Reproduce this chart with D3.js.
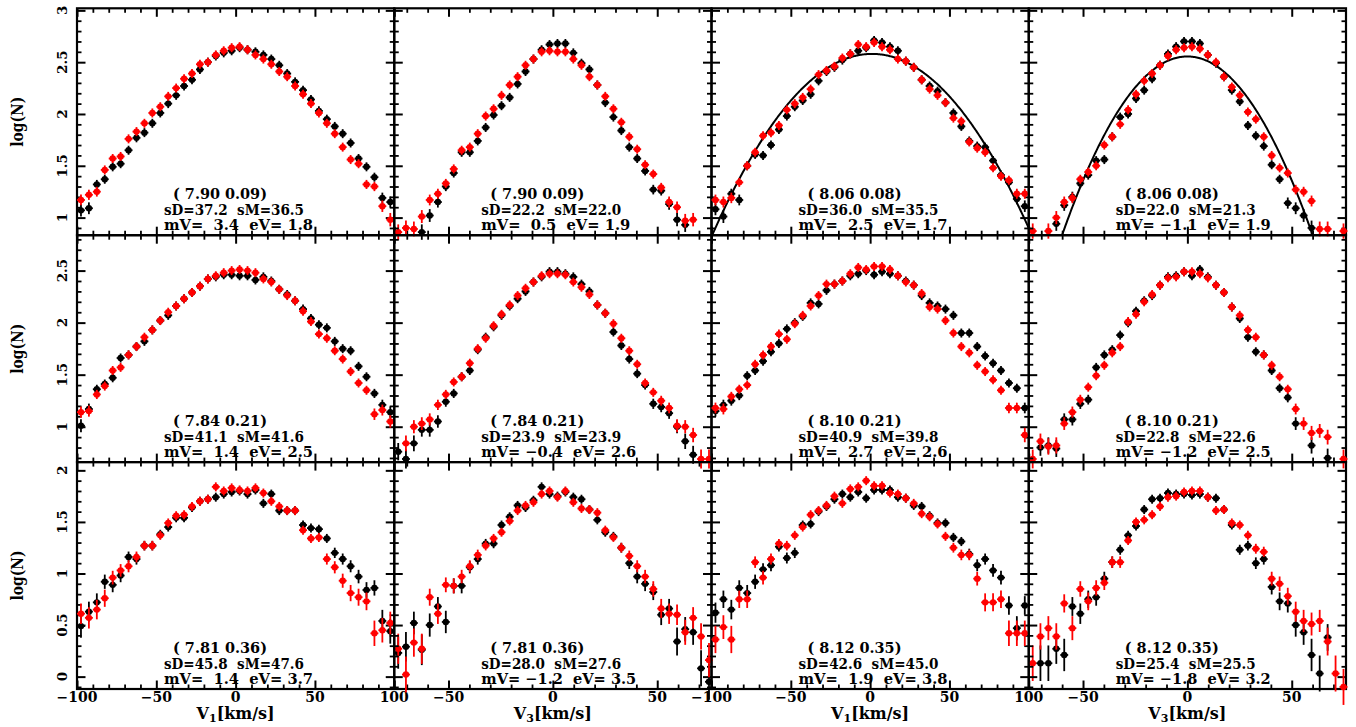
<!DOCTYPE html>
<html><head><meta charset="utf-8">
<script src="https://cdn.jsdelivr.net/npm/d3@7"></script>
<style>
body{margin:0;background:#fff}
svg{display:block}
text{font-family:"DejaVu Serif",serif;fill:#000;font-weight:bold}
</style>
</head><body>
<svg id="c" width="1356" height="727"></svg>
<script>
// ---------------- DATA ----------------
// bin centres (km/s)
const v1Bins = [-97.5,-92.5,-87.5,-82.5,-77.5,-72.5,-67.5,-62.5,-57.5,-52.5,-47.5,-42.5,-37.5,-32.5,-27.5,-22.5,-17.5,-12.5,-7.5,-2.5,2.5,7.5,12.5,17.5,22.5,27.5,32.5,37.5,42.5,47.5,52.5,57.5,62.5,67.5,72.5,77.5,82.5,87.5,92.5,97.5,102.5];
const v3Bins = [-70.4,-66.6,-62.8,-59.0,-55.1,-51.3,-47.5,-43.7,-39.8,-36.0,-32.2,-28.4,-24.6,-20.7,-16.9,-13.1,-9.3,-5.4,-1.6,2.2,6.0,9.8,13.7,17.5,21.3,25.1,29.0,32.8,36.6,40.4,44.2,48.1,51.9,55.7,59.5,63.4,67.2,71.0,74.8];

// row 1
const r1c1Black = [1.07,1.09,1.32,1.37,1.49,1.52,1.65,1.77,1.82,1.91,2.01,2.10,2.18,2.27,2.33,2.43,2.50,2.56,2.59,2.61,2.64,2.62,2.60,2.57,2.53,2.47,2.39,2.31,2.23,2.14,2.03,1.95,1.88,1.81,1.72,1.57,1.49,1.39,1.19,1.15,null];
const r1c1Red   = [1.17,1.22,1.25,1.46,1.57,1.59,1.76,1.83,1.91,2.01,2.07,2.17,2.25,2.34,2.39,2.48,2.50,2.57,2.61,2.64,2.65,2.62,2.57,2.53,2.48,2.41,2.36,2.27,2.19,2.10,2.01,1.91,1.81,1.68,1.56,1.52,1.32,1.30,1.11,0.98,0.86];
const r1c2Black = [null,null,0.86,1.02,1.15,1.30,1.43,1.63,1.63,1.74,1.87,1.99,2.08,2.16,2.29,2.41,2.53,2.62,2.67,2.68,2.68,2.59,2.49,2.43,2.28,2.11,1.97,1.84,1.68,1.57,1.45,1.27,1.26,1.13,0.98,0.93,null,null,null];
const r1c2Red   = [0.90,0.89,1.01,1.17,1.23,1.33,1.47,1.65,1.68,1.81,1.98,2.05,2.18,2.28,2.36,2.47,2.53,2.60,2.61,2.60,2.60,2.53,2.47,2.36,2.28,2.17,2.05,1.92,1.78,1.66,1.51,1.42,1.29,1.15,1.10,0.97,0.98,null,null];
const r1c3Black = [1.08,1.01,1.23,1.17,1.50,1.61,1.60,1.70,1.85,1.98,2.07,2.13,2.19,2.32,2.41,2.45,2.52,2.58,2.61,2.64,2.71,2.69,2.65,2.61,2.51,2.45,2.33,2.27,2.22,2.11,2.01,1.88,1.74,1.69,1.68,1.55,1.41,1.34,1.18,1.11,null];
const r1c3Red   = [1.17,1.15,1.19,1.34,1.50,1.63,1.79,1.82,1.89,2.04,2.10,2.16,2.24,2.38,2.42,2.46,2.54,2.58,2.67,2.65,2.69,2.65,2.62,2.53,2.51,2.45,2.33,2.24,2.18,2.11,1.96,1.93,1.73,1.67,1.63,1.48,1.40,1.36,1.23,1.23,0.87];
const r1c4Black = [null,null,0.94,1.12,1.20,1.33,1.41,1.55,1.56,1.78,1.97,2.00,2.15,2.23,2.34,2.47,2.58,2.65,2.70,2.70,2.68,2.57,2.49,2.36,2.23,2.12,1.89,1.79,1.69,1.51,1.37,1.14,1.09,1.02,0.90,null,null,null,null];
const r1c4Red   = [null,0.87,1.00,1.15,1.19,1.37,1.44,1.50,1.70,1.78,1.90,2.04,2.19,2.32,2.39,2.47,2.56,2.62,2.64,2.65,2.63,2.57,2.50,2.36,2.26,2.18,2.02,1.95,1.78,1.60,1.48,1.43,1.27,1.25,1.16,0.89,0.89,null,0.87];
// row 2
const r2c1Black = [1.01,1.17,1.36,1.41,1.47,1.66,1.69,1.77,1.82,1.93,2.02,2.07,2.16,2.23,2.29,2.35,2.42,2.44,2.46,2.46,2.45,2.45,2.41,2.44,2.40,2.32,2.27,2.21,2.13,2.04,1.98,1.95,1.82,1.75,1.73,1.58,1.48,1.32,1.21,1.14,0.76];
const r2c1Red   = [1.14,1.15,1.31,1.39,1.54,1.57,1.69,1.77,1.86,1.93,2.02,2.10,2.16,2.23,2.29,2.35,2.42,2.45,2.48,2.50,2.51,2.50,2.48,2.42,2.39,2.32,2.26,2.21,2.11,2.01,1.89,1.85,1.73,1.65,1.53,1.42,1.35,1.12,1.16,1.05,null];
const r2c2Black = [0.69,0.84,0.97,0.97,1.05,1.24,1.32,1.48,1.54,1.74,1.86,1.96,2.07,2.16,2.23,2.30,2.39,2.44,2.49,2.49,2.47,2.44,2.37,2.30,2.17,2.09,1.91,1.78,1.65,1.51,1.40,1.22,1.19,1.13,1.00,0.86,0.73,null,null];
const r2c2Red   = [0.84,1.00,1.03,1.07,1.21,1.31,1.43,1.48,1.61,1.75,1.85,1.97,2.08,2.17,2.26,2.33,2.39,2.45,2.47,2.47,2.46,2.39,2.34,2.27,2.17,2.09,1.99,1.85,1.73,1.60,1.42,1.33,1.25,1.18,1.01,1.00,0.92,0.69,0.69];
const r2c3Black = [1.15,1.21,1.25,1.30,1.49,1.54,1.63,1.72,1.80,1.94,2.00,2.06,2.19,2.18,2.31,2.37,2.40,2.45,2.47,2.50,2.46,2.49,2.47,2.45,2.40,2.36,2.26,2.19,2.16,2.13,2.07,1.90,1.90,1.77,1.68,1.61,1.54,1.42,1.37,1.18,null];
const r2c3Red   = [1.18,1.17,1.29,1.36,1.40,1.60,1.69,1.77,1.89,1.84,1.99,2.07,2.16,2.26,2.37,2.37,2.40,2.47,2.53,2.51,2.54,2.54,2.51,2.45,2.39,2.36,2.28,2.15,2.13,2.02,1.90,1.77,1.71,1.59,1.53,1.45,1.35,1.18,1.18,0.92,0.69];
const r2c4Black = [0.80,0.82,0.79,1.07,1.07,1.22,1.26,1.57,1.69,1.74,1.88,2.00,2.11,2.21,2.26,2.36,2.44,2.45,2.49,2.45,2.51,2.44,2.36,2.29,2.15,2.04,1.86,1.72,1.69,1.54,1.37,1.28,1.03,null,0.82,null,0.70,null,null];
const r2c4Red   = [0.86,0.81,0.82,1.03,1.14,1.26,1.38,1.49,1.59,1.71,1.77,2.01,2.08,2.20,2.27,2.36,2.43,2.44,2.49,2.49,2.47,2.43,2.36,2.29,2.15,2.07,1.93,1.86,1.69,1.59,1.48,1.36,1.17,1.03,0.94,0.96,0.90,null,0.69];
// row 3
const r3c1Black = [0.49,0.63,0.72,0.92,0.89,0.98,1.16,1.14,1.27,1.27,1.38,1.45,1.54,1.54,1.64,1.70,1.72,1.74,1.77,1.79,1.80,1.77,1.81,1.68,1.77,1.61,1.61,1.61,1.47,1.44,1.43,1.34,1.20,1.14,1.07,0.97,0.84,0.86,0.54,0.44,0.23];
const r3c1Red   = [0.61,0.57,0.65,0.76,0.96,1.03,1.07,1.16,1.27,1.27,1.37,1.49,1.56,1.57,1.65,1.70,1.72,1.84,1.80,1.83,1.81,1.80,1.83,1.78,1.70,1.65,1.61,1.61,1.42,1.34,1.35,1.14,1.06,0.93,0.81,0.77,0.73,0.42,0.45,0.52,0.27];
const r3c2Black = [0.29,0.52,0.26,0.50,0.68,0.53,0.88,0.88,1.06,1.14,1.29,1.29,1.47,1.55,1.66,1.64,1.71,1.84,1.77,1.75,1.79,1.74,1.72,1.62,1.52,1.40,1.36,1.25,1.10,0.97,0.90,0.82,0.60,0.66,0.34,0.46,0.43,0.08,-0.05];
const r3c2Red   = [0.02,0.33,0.27,0.77,0.61,0.89,0.88,0.97,1.07,1.18,1.27,1.34,1.40,1.51,1.61,1.66,1.69,1.77,1.80,1.74,1.80,1.69,1.63,1.62,1.59,1.42,1.35,1.25,1.17,1.07,0.97,0.85,0.66,0.61,0.60,0.43,0.57,0.39,0.16];
const r3c3Black = [0.62,0.75,0.65,0.86,0.81,0.92,1.04,1.08,1.26,1.15,1.20,1.47,1.48,1.60,1.65,1.72,1.77,1.74,1.79,1.73,1.81,1.81,1.81,1.74,1.73,1.66,1.65,1.56,1.49,1.49,1.35,1.31,1.19,1.08,1.14,1.03,0.96,0.69,0.47,0.69,null];
const r3c3Red   = [0.36,0.48,0.36,0.75,0.75,1.11,0.96,1.14,1.29,1.27,1.37,1.45,1.57,1.61,1.66,1.75,1.68,1.82,1.84,1.90,1.85,1.85,1.78,1.77,1.73,1.68,1.58,1.55,1.48,1.36,1.25,1.18,1.18,0.95,0.72,0.72,0.75,0.42,0.42,0.42,0.13];
const r3c4Black = [0.13,0.13,0.27,0.21,0.68,0.61,0.75,0.77,0.95,1.11,1.23,1.37,1.46,1.62,1.72,1.73,1.78,1.77,1.77,1.76,1.77,1.74,1.73,1.62,1.47,1.23,1.27,1.10,1.14,0.87,0.73,0.71,0.50,0.43,0.21,0.03,0.38,null,null];
const r3c4Red   = [0.39,0.47,0.39,0.71,0.47,0.85,0.73,0.86,0.91,1.11,1.11,1.32,1.50,1.52,1.57,1.65,1.74,1.75,1.79,1.80,1.80,1.74,1.61,1.62,1.49,1.47,1.37,1.24,1.21,0.95,0.90,0.78,0.63,0.54,0.51,0.54,0.34,0.03,-0.10];

// panel annotations
const distLabels  = [["( 7.90 0.09)","( 7.90 0.09)","( 8.06 0.08)","( 8.06 0.08)"],
                     ["( 7.84 0.21)","( 7.84 0.21)","( 8.10 0.21)","( 8.10 0.21)"],
                     ["( 7.81 0.36)","( 7.81 0.36)","( 8.12 0.35)","( 8.12 0.35)"]];
const sigmaLabels = [["sD=37.2  sM=36.5","sD=22.2  sM=22.0","sD=36.0  sM=35.5","sD=22.0  sM=21.3"],
                     ["sD=41.1  sM=41.6","sD=23.9  sM=23.9","sD=40.9  sM=39.8","sD=22.8  sM=22.6"],
                     ["sD=45.8  sM=47.6","sD=28.0  sM=27.6","sD=42.6  sM=45.0","sD=25.4  sM=25.5"]];
const meanLabels  = [["mV=  3.4  eV= 1.8","mV=  0.5  eV= 1.9","mV=  2.5  eV= 1.7","mV= \u22121.1  eV= 1.9"],
                     ["mV=  1.4  eV= 2.5","mV= \u22120.4  eV= 2.6","mV=  2.7  eV= 2.6","mV= \u22121.2  eV= 2.5"],
                     ["mV=  1.4  eV= 3.7","mV= \u22121.2  eV= 3.5","mV=  1.9  eV= 3.8","mV= \u22121.8  eV= 3.2"]];

// Gaussian model curves drawn in the top row (columns 3 and 4)
const fitCols  = [2, 3];
const fitPeak  = [2.58, 2.555];
const fitMean  = [1.2, 0.0];
const fitSigma = [35.5, 21.3];

// axis ticks
const v1Major = [-100,-50,0,50,100];
const v3Major = [-50,0,50];
const yMajorByRow = [[1,1.5,2,2.5,3],[1,1.5,2,2.5],[0,0.5,1,1.5,2]];
const xTitles = ["1","3","1","3"];

// ---------------- LAYOUT ----------------
const blackSeries = [[r1c1Black,r1c2Black,r1c3Black,r1c4Black],[r2c1Black,r2c2Black,r2c3Black,r2c4Black],[r3c1Black,r3c2Black,r3c3Black,r3c4Black]];
const redSeries   = [[r1c1Red,r1c2Red,r1c3Red,r1c4Red],[r2c1Red,r2c2Red,r2c3Red,r2c4Red],[r3c1Red,r3c2Red,r3c3Red,r3c4Red]];

const L=77, R=1346, T=8.3, B=689;
const PW=(R-L)/4, PH=(B-T)/3;
const yDomains=[[0.83,3.02],[0.66,2.84],[-0.12,2.08]];
const isV1=[true,false,true,false];
const ERR_SCALE=0.2;    // Poisson-like error on log(N)
const ERR_MAXPX=18;
const RED="#ff0000";

const svg=d3.select("#c");

for(let r=0;r<3;r++){
  for(let c=0;c<4;c++){
    const x0=L+c*PW, y0=T+r*PH;
    const xd = isV1[c]?[-100,100]:[-76,76];
    const x=d3.scaleLinear().domain(xd).range([x0,x0+PW]);
    const y=d3.scaleLinear().domain(yDomains[r]).range([y0+PH,y0]);
    const bins = isV1[c]?v1Bins:v3Bins;
    const hb = isV1[c]?2.5:1.9;
    const g=svg.append("g");

    const clipId=`clip${r}${c}`;
    g.append("clipPath").attr("id",clipId).append("rect")
      .attr("x",x0).attr("y",y0).attr("width",PW).attr("height",PH);

    // ticks (all four sides, inward)
    const xMaj = isV1[c]?v1Major:v3Major;
    const xMin = d3.range(Math.ceil(xd[0]/10)*10, xd[1]+0.1, 10).filter(t=>!xMaj.includes(t));
    const yd=yDomains[r];
    const yMaj=yMajorByRow[r];
    const yMin=d3.range(Math.ceil(yd[0]*10), Math.floor(yd[1]*10)+1).map(i=>i/10)
                 .filter(t=>!yMaj.some(m=>Math.abs(m-t)<1e-6));
    const axes=[
      [()=>d3.axisTop(x),   `translate(0,${y0+PH})`, xMaj, xMin],
      [()=>d3.axisBottom(x),`translate(0,${y0})`,    xMaj, xMin],
      [()=>d3.axisRight(y), `translate(${x0},0)`,    yMaj, yMin],
      [()=>d3.axisLeft(y),  `translate(${x0+PW},0)`, yMaj, yMin]
    ];
    axes.forEach(([mk,tr,maj,min])=>{
      g.append("g").attr("transform",tr).attr("stroke-width",2)
        .call(mk().tickValues(maj).tickSize(8.5).tickFormat(""))
        .call(s=>s.select(".domain").remove());
      g.append("g").attr("transform",tr).attr("stroke-width",1.8)
        .call(mk().tickValues(min).tickSize(4.5).tickFormat(""))
        .call(s=>s.select(".domain").remove());
    });

    // frame
    g.append("rect").attr("x",x0).attr("y",y0).attr("width",PW).attr("height",PH)
      .attr("fill","none").attr("stroke","#000").attr("stroke-width",2.2);

    // model curve
    const fi=fitCols.indexOf(c);
    if(r===0 && fi>=0){
      const vs=d3.range(xd[0],xd[1]+0.5,0.5);
      const curve=vs.map(v=>[v, fitPeak[fi]-Math.LOG10E*(v-fitMean[fi])**2/(2*fitSigma[fi]**2)]);
      g.append("path").attr("clip-path",`url(#${clipId})`)
        .attr("d",d3.line().x(d=>x(d[0])).y(d=>y(d[1]))(curve))
        .attr("fill","none").attr("stroke","#000").attr("stroke-width",2);
    }

    // points with error bars
    [[blackSeries[r][c],"#000"],[redSeries[r][c],RED]].forEach(([vals,col])=>{
      const pts=vals.map((v,i)=>({v,b:bins[i]})).filter(d=>d.v!=null);
      const ePx=d=>{const e=ERR_SCALE/Math.sqrt(Math.pow(10,d.v));return Math.min(ERR_MAXPX,Math.max(4.5,y(d.v-e)-y(d.v)));};
      const m=g.append("g").selectAll("g").data(pts).join("g")
        .attr("transform",d=>`translate(${x(d.b)},${y(d.v)})`);
      m.append("line")
        .attr("x1",d=>x(d.b-hb)-x(d.b)).attr("x2",d=>x(d.b+hb)-x(d.b))
        .attr("y1",0).attr("y2",0).attr("stroke",col).attr("stroke-width",1.8);
      m.append("line").attr("x1",0).attr("x2",0)
        .attr("y1",d=>-ePx(d)).attr("y2",d=>ePx(d))
        .attr("stroke",col).attr("stroke-width",1.8);
      m.append("circle").attr("r",3.2).attr("fill",col);
    });

    // annotations
    const hasMinus = meanLabels[r][c].includes("\u2212");
    g.append("text").attr("x",x0+96).attr("y",y0+191).style("white-space","pre")
      .attr("font-size",15).attr("textLength",94).attr("lengthAdjust","spacingAndGlyphs")
      .text(distLabels[r][c]);
    g.append("text").attr("x",x0+87).attr("y",y0+206.5).style("white-space","pre")
      .attr("font-size",15).attr("textLength",140).attr("lengthAdjust","spacingAndGlyphs")
      .text(sigmaLabels[r][c]);
    g.append("text").attr("x",x0+87).attr("y",y0+222).style("white-space","pre")
      .attr("font-size",15).attr("textLength",hasMinus?155:149).attr("lengthAdjust","spacingAndGlyphs")
      .text(meanLabels[r][c]);

    // tick labels and titles
    if(r===2){
      g.append("g").selectAll("text").data(xMaj).join("text")
        .attr("x",d=>x(d)).attr("y",702).attr("text-anchor","middle")
        .attr("font-size",14).text(d=>d3.format("")(d));
      const t=g.append("text").attr("x",x0+PW/2).attr("y",719).attr("text-anchor","middle").attr("font-size",16);
      t.append("tspan").text("V");
      t.append("tspan").attr("font-size",11).attr("dy",3).text(xTitles[c]);
      t.append("tspan").attr("dy",-3).text("[km/s]");
    }
    if(c===0){
      g.append("g").selectAll("text").data(yMaj).join("text")
        .attr("transform",d=>`translate(66.5,${y(d)}) rotate(-90)`)
        .attr("text-anchor","middle").attr("font-size",13.5).text(d=>d3.format("")(d));
      g.append("text").attr("transform",`translate(23,${y0+PH/2}) rotate(-90)`)
        .attr("text-anchor","middle").attr("font-size",16).attr("textLength",50)
        .attr("lengthAdjust","spacingAndGlyphs").text("log(N)");
    }
  }
}
</script>
</body></html>
